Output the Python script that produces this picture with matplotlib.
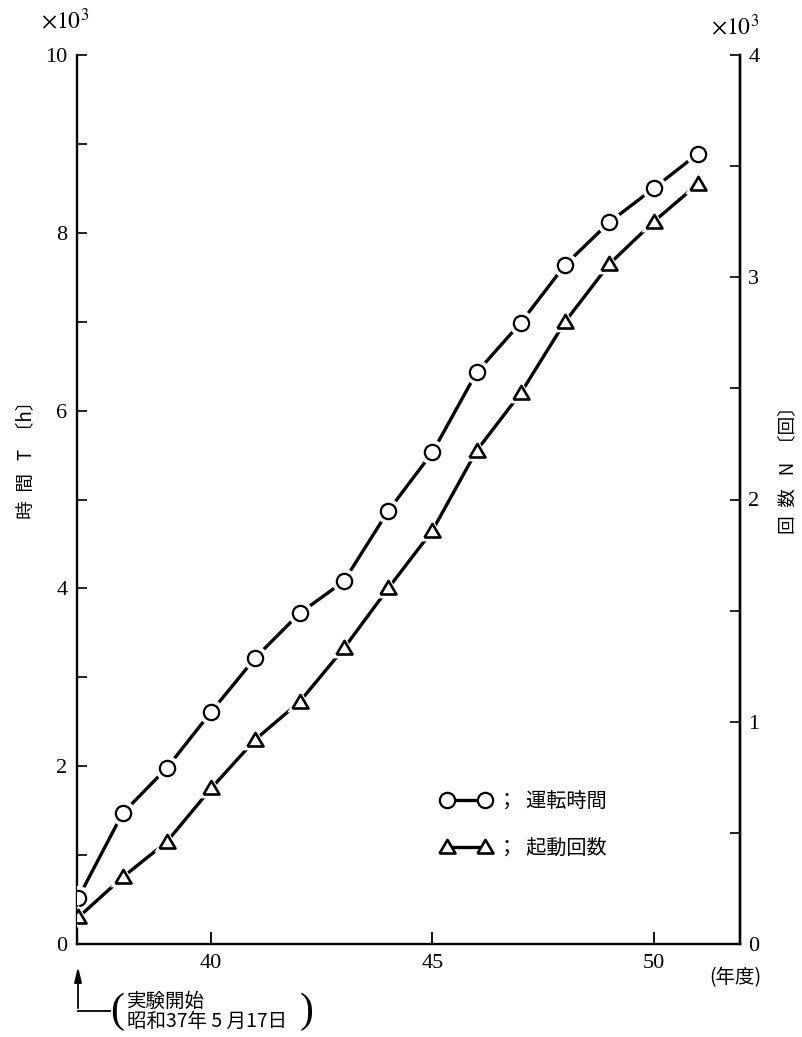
import matplotlib
matplotlib.use("Agg")
import matplotlib.pyplot as plt
from matplotlib.lines import Line2D
from matplotlib.ticker import MultipleLocator

plt.rcParams['font.family'] = ['Liberation Serif', 'Noto Sans CJK JP', 'DejaVu Sans']
plt.rcParams['mathtext.fontset'] = 'stix'

# fiscal years (Showa)
years = [37, 38, 39, 40, 41, 42, 43, 44, 45, 46, 47, 48, 49, 50, 51]
# cumulative running time T (x10^3 h), left axis
hours = [0.52, 1.47, 1.98, 2.61, 3.22, 3.72, 4.08, 4.87, 5.53, 6.43, 6.99, 7.64, 8.12, 8.50, 8.89]
# cumulative number of starts N (x10^3), right axis
starts = [0.12, 0.30, 0.46, 0.70, 0.92, 1.09, 1.33, 1.60, 1.86, 2.22, 2.48, 2.80, 3.06, 3.25, 3.42]

x_ticks = [40, 45, 50]
left_ticks = [0, 2, 4, 6, 8, 10]
right_ticks = [0, 1, 2, 3, 4]

W, H = 803, 1037
jp = ['Noto Sans CJK JP', 'DejaVu Sans']
tri = [(-1, -0.75), (1, -0.75), (0, 0.95), (-1, -0.75)]


def fx(px):
    return px / W


def fy(py):
    return 1 - py / H


fig = plt.figure(figsize=(W / 100, H / 100), dpi=100)
ax = fig.add_axes([fx(77), 93 / H, 663 / W, 889 / H])
ax2 = ax.twinx()

# running time: line, white halo, open circle
ax.plot(years, hours, color='black', lw=2.4, zorder=2, solid_capstyle='butt')
ax.plot(years, hours, ls='none', marker='o', ms=18, mfc='white', mec='none', zorder=3)
ax.plot(years, hours, ls='none', marker='o', ms=11, mfc='white', mec='black', mew=1.6, zorder=4)

# number of starts
ax2.plot(years, starts, color='black', lw=2.4, zorder=2, solid_capstyle='butt')
ax2.plot(years, starts, ls='none', marker=tri, ms=19, mfc='white', mec='none', zorder=3)
ax2.plot(years, starts, ls='none', marker=tri, ms=11.5, mfc='white', mec='black', mew=1.9, zorder=4)

ax.set_xlim(36.97, 51.95)
ax.set_ylim(0, 10)
ax2.set_ylim(0, 4)

for a in (ax, ax2):
    a.spines['top'].set_visible(False)
    for s in a.spines.values():
        s.set_linewidth(1.7)
ax2.spines['left'].set_visible(False)
ax2.spines['bottom'].set_visible(False)

ax.set_xticks(x_ticks)
ax.set_xticklabels([str(v) for v in x_ticks])
ax.tick_params(axis='x', direction='in', length=9, width=1.3, pad=7, labelsize=16)
ax.set_yticks(left_ticks)
ax.set_yticklabels([str(v) for v in left_ticks])
ax.yaxis.set_minor_locator(MultipleLocator(1))
ax.tick_params(axis='y', which='both', direction='in', length=7, width=1.2, pad=7, labelsize=16)

ax2.set_yticks(right_ticks)
ax2.set_yticklabels([str(v) for v in right_ticks])
ax2.yaxis.set_minor_locator(MultipleLocator(0.5))
ax2.tick_params(axis='y', which='both', direction='in', length=7, width=1.2, pad=6, labelsize=16)

# exponent marks
fig.text(fx(41), fy(21), r'$\times10^3$', fontsize=17, ha='left', va='center')
fig.text(fx(711), fy(27), r'$\times10^3$', fontsize=17, ha='left', va='center')

# axis titles
fig.text(fx(26), fy(455), '時  間   T  〔h〕', family=jp, fontsize=13.5,
         rotation=90, ha='center', va='center')
fig.text(fx(788), fy(465), '回  数   N  〔回〕', family=jp, fontsize=13.5,
         rotation=90, ha='center', va='center')
fig.text(fx(735), fy(978), '(年度)', family=jp, fontsize=14, ha='center', va='center')

# legend
handles = [
    Line2D([0], [0], color='black', lw=2.4, marker='o', ms=11, mfc='white', mec='black', mew=1.6),
    Line2D([0], [0], color='black', lw=2.4, marker=tri, ms=11.5, mfc='white', mec='black', mew=1.9),
]
ax.legend(handles, ['；  運転時間', '；  起動回数'], prop={'family': jp, 'size': 14.5},
          numpoints=2, handlelength=2.5, handletextpad=0.3, labelspacing=1.3,
          frameon=False, borderpad=0, borderaxespad=0,
          loc='upper left', bbox_to_anchor=((441 - 77) / 663, (944 - 791) / 889))

# start-of-test annotation
ax.annotate('', xy=(fx(78), fy(964)), xycoords='figure fraction',
            xytext=(fx(78), fy(1011)), textcoords='figure fraction',
            arrowprops=dict(arrowstyle='-|>,head_length=0.9,head_width=0.22', color='black', lw=1.3))
fig.add_artist(Line2D([fx(78), fx(110)], [fy(1011), fy(1011)], color='black', lw=1.3))
fig.text(fx(110), fy(1012), '(', fontsize=30, ha='left', va='center', family='Liberation Serif')
fig.text(fx(300), fy(1012), ')', fontsize=30, ha='left', va='center', family='Liberation Serif')
fig.text(fx(127), fy(1001), '実験開始', family=jp, fontsize=14, ha='left', va='center')
fig.text(fx(127), fy(1021), '昭和37年 5 月17日', family=jp, fontsize=14, ha='left', va='center')

fig.savefig('out.png', dpi=100)
